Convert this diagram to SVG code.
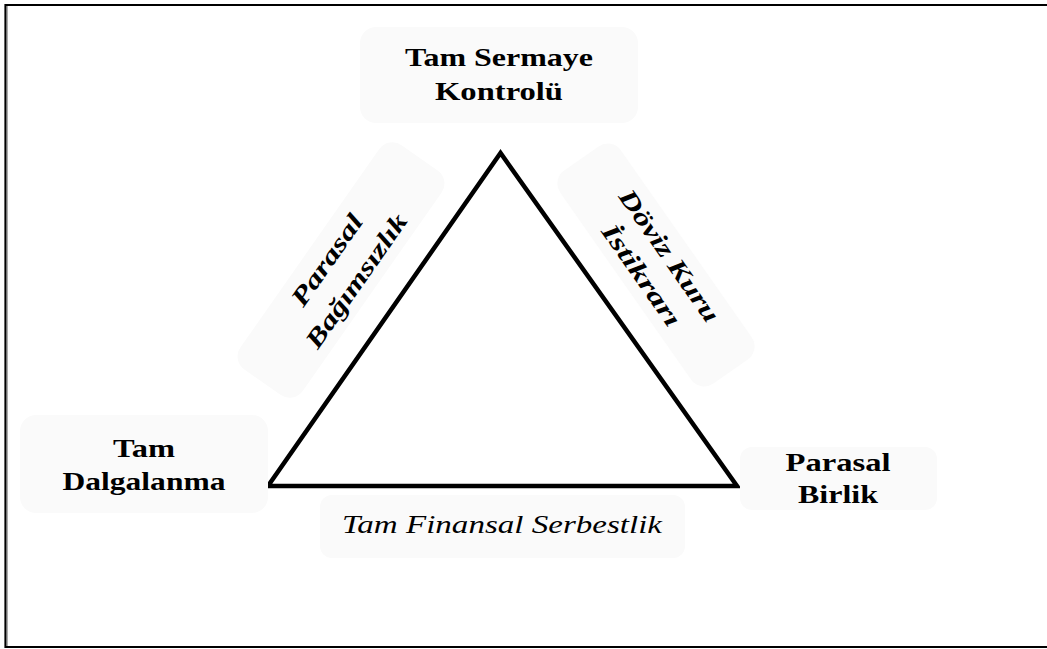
<svg xmlns="http://www.w3.org/2000/svg" width="1047" height="649" viewBox="0 0 1047 649">
<style>
.box{fill:#fafafa;stroke:none}
.t{font-family:'Liberation Serif','Times New Roman',serif;font-size:25px;font-weight:700;fill:#000;text-anchor:middle}
.i{font-style:italic}
.n{font-weight:400}
</style>
<rect width="1047" height="649" fill="#fff"/>
<path d="M1047,5 H5.5 V647 H1047" fill="none" stroke="#000" stroke-width="2.2"/>
<line x1="7.2" y1="6" x2="7.2" y2="646" stroke="#888" stroke-width="1"/>
<g id="edges">
<polygon points="500.5,153 268,486 737,486" fill="none" stroke="#000" stroke-width="4.5" stroke-linejoin="miter"/>
</g>
<g id="node-top">
<rect class="box" x="360" y="27" width="278" height="96" rx="16"/>
<text class="t" x="499" y="66" textLength="188" lengthAdjust="spacingAndGlyphs">Tam Sermaye</text>
<text class="t" x="499" y="100" textLength="128" lengthAdjust="spacingAndGlyphs">Kontrolü</text>
</g>
<g id="node-left">
<rect class="box" x="20" y="415" width="248" height="98" rx="16"/>
<text class="t" x="144" y="457" textLength="62" lengthAdjust="spacingAndGlyphs">Tam</text>
<text class="t" x="144" y="490" textLength="163" lengthAdjust="spacingAndGlyphs">Dalgalanma</text>
</g>
<g id="node-right">
<rect class="box" x="740" y="447" width="197" height="63" rx="12"/>
<text class="t" x="838" y="471" textLength="105" lengthAdjust="spacingAndGlyphs">Parasal</text>
<text class="t" x="838" y="503" textLength="80" lengthAdjust="spacingAndGlyphs">Birlik</text>
</g>
<g id="label-bottom">
<rect class="box" x="320" y="495" width="365" height="63" rx="12"/>
<text class="t i n" x="502" y="533" textLength="320" lengthAdjust="spacingAndGlyphs">Tam Finansal Serbestlik</text>
</g>
<g id="label-left" transform="translate(341,270) rotate(-55)">
<rect class="box" x="-137" y="-38" width="274" height="76" rx="16"/>
<text class="t i" x="0" y="-9" textLength="106" lengthAdjust="spacingAndGlyphs">Parasal</text>
<text class="t i" x="0" y="27" textLength="158" lengthAdjust="spacingAndGlyphs">Bağımsızlık</text>
</g>
<g id="label-right" transform="translate(656,265) rotate(55)">
<rect class="box" x="-130" y="-37" width="260" height="74" rx="16"/>
<text class="t i" x="0" y="-8" textLength="156" lengthAdjust="spacingAndGlyphs">Döviz Kuru</text>
<text class="t i" x="0" y="26" textLength="119" lengthAdjust="spacingAndGlyphs">İstikrarı</text>
</g>
</svg>
